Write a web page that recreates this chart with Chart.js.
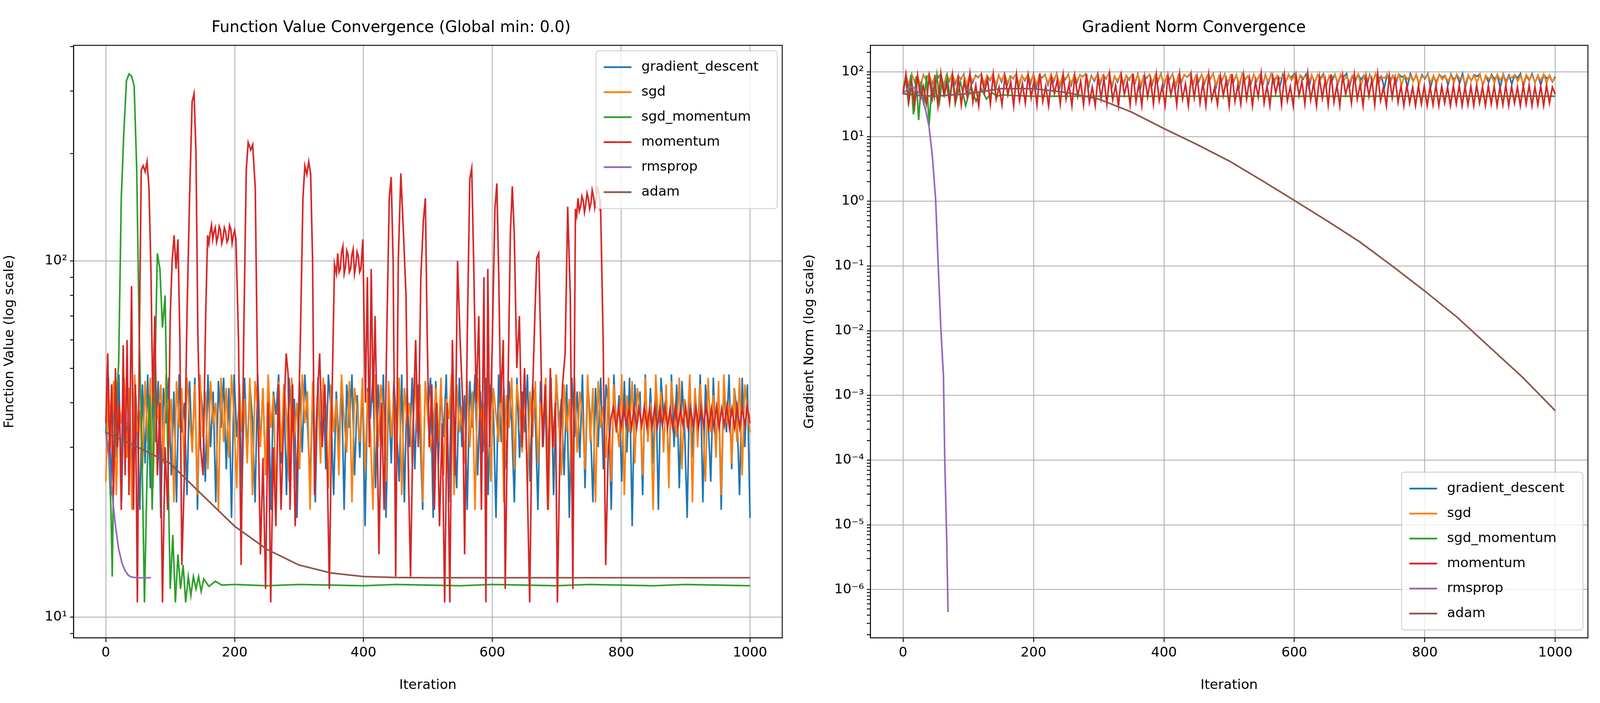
<!DOCTYPE html>
<html lang="en">
<head>
    <meta charset="UTF-8">
    <title>Optimizer Convergence</title>
    <script src="https://cdn.jsdelivr.net/npm/chart.js@4.4.1/dist/chart.umd.min.js"></script>
    <style>
        html, body { margin: 0; padding: 0; background: #fff; overflow: hidden; }
        .panel { position: absolute; top: 0; }
    </style>
</head>
<body>
    <div id="left" class="panel"><canvas id="fv-chart"></canvas></div>
    <div id="right" class="panel"><canvas id="gn-chart"></canvas></div>
    <script>
        const names = ['gradient_descent', 'sgd', 'sgd_momentum', 'momentum', 'rmsprop', 'adam'];
        const colors = ['#1f77b4', '#ff7f0e', '#2ca02c', '#d62728', '#9467bd', '#8c564b'];
        const xTicks = [0, 200, 400, 600, 800, 1000];

        // ---- function value panel (evenly spaced samples over 0..1000) ----
        const gdFv = [33,47,22,45,28,48,21,46,30,44,24,47,36,20,45,27,48,23,42,31,46,19,44,35,47,25,43,21,48,33,40,22,46,29,47,20,45,38,24,48,30,43,21,46,34,47,26,44,19,48,32,41,23,47,28,45,36,21,48,30,44,25,46,20,43,37,48,27,45,22,47,33,41,19,46,29,48,35,24,44,21,47,31,45,26,48,38,22,43,30,47,20,45,34,48,25,42,28,46,18,44,36,47,23,45,31,48,19,43,27,46,35,24,48,21,44,30,47,26,45,33,20,46,38,47,19,
            46,27,44,32,48,21,45,36,23,47,30,42,20,46,34,48,25,43,29,47,22,45,38,19,48,31,44,26,46,35,21,47,28,43,33,48,24,45,37,20,46,30,44,27,47,22,48,34,41,25,45,19,47,32,43,28,48,23,46,36,21,44,30,47,26,45,39,20,48,33,42,24,46,29,47,18,45,35,43,22,48,31,44,27,46,20,47,37,42,25,48,30,45,23,46,34,19,47,28,44,32,48,21,45,36,24,47,29,43,20,46,33,48,26,44,38,22,47,30,45,19];
        const sgdFv = [24,45,30,46,22,40,35,47,28,44,20,48,33,38,26,46,31,47,23,42,36,45,27,48,30,41,21,46,34,44,25,47,37,29,45,22,48,32,43,26,46,35,40,20,47,31,44,28,48,36,23,45,33,41,27,47,22,46,38,30,44,25,48,34,42,21,46,29,45,37,24,47,32,40,26,48,35,43,20,46,30,44,27,47,39,23,45,33,41,25,48,36,29,46,21,44,38,31,47,26,43,34,20,48,30,45,37,24,46,32,42,28,47,22,44,35,40,27,48,33,45,21,46,36,30,34,
            44,31,47,25,41,36,48,22,45,33,39,27,46,30,43,20,47,35,40,28,48,24,44,37,31,46,21,42,34,47,26,45,38,29,48,23,43,32,46,27,40,35,47,20,44,30,48,36,25,45,33,41,22,47,29,43,37,26,48,31,44,21,46,34,39,28,47,24,45,36,30,48,22,42,33,46,27,44,38,25,47,31,40,20,48,35,43,29,45,23,46,37,32,47,26,41,34,48,21,44,30,45,36,24,47,33,42,28,46,22,48,35,40,27,44,31,47,25,45,38,33];
        // [iteration, value]
        const sgdMomFv = [[0,33],[4,30],[8,20],[10,13],[12,25],[16,38],[20,52],[24,150],[28,230],[32,320],[36,335],[40,330],[44,310],[48,180],[52,60],[56,30],[60,11],[64,25],[68,42],[72,20],[76,45],[78,70],[80,105],[84,95],[88,65],[92,80],[96,30],[100,12],[104,17],[108,11],[112,15],[116,12],[120,14],[124,11],[128,13],[132,11.5],[136,13],[140,12],[144,13],[148,11.8],[152,12.8],[160,12.2],[170,12.6],[180,12.3],[200,12.35],[250,12.25],[300,12.35],[350,12.3],[400,12.25],[450,12.35],[500,12.3],[550,12.25],[600,12.35],[650,12.3],[700,12.25],[750,12.35],[800,12.3],[850,12.25],[900,12.35],[950,12.3],[1000,12.25]];
        const momFv = [[0,35],[3,55],[6,28],[9,45],[12,22],[15,50],[18,30],[21,40],[24,20],[27,58],[30,25],[33,60],[36,22],[40,85],[43,20],[46,45],[49,11],[52,60],[55,180],[58,185],[61,178],[64,190],[67,160],[70,95],[73,40],[76,70],[80,25],[84,40],[88,11],[92,30],[96,20],[100,70],[103,100],[106,118],[109,95],[112,115],[115,60],[118,14],[122,25],[126,70],[130,150],[134,280],[137,295],[140,200],[143,60],[147,30],[151,25],[155,70],[158,118],[160,112],[162,120],[164,126],[166,115],[168,121],[170,124],[172,113],[174,117],[176,125],[178,122],[180,112],[182,116],[184,124],[186,121],[188,113],[190,115],[192,126],[194,123],[196,112],[198,118],[200,122],[202,115],[206,60],[210,14],[214,60],[218,180],[221,215],[225,205],[228,212],[232,160],[236,40],[240,15],[244,28],[248,12],[252,40],[256,11],[260,30],[264,18],[268,45],[272,20],[276,35],[280,55],[283,48],[286,20],[290,45],[294,18],[298,30],[302,60],[306,150],[309,185],[312,175],[315,190],[318,175],[321,100],[324,22],[328,40],[332,55],[336,30],[340,45],[344,25],[347,12],[351,40],[355,98],[358,92],[360,105],[362,93],[364,95],[366,106],[368,110],[370,92],[372,96],[374,107],[376,104],[378,93],[380,95],[382,104],[384,108],[386,92],[388,97],[390,106],[392,103],[394,93],[396,95],[399,115],[403,40],[406,90],[409,30],[412,95],[415,40],[418,70],[421,35],[424,15],[428,40],[432,20],[436,60],[440,150],[443,172],[446,100],[450,13],[454,100],[458,176],[462,120],[466,80],[469,30],[473,13],[477,35],[481,60],[485,30],[489,90],[493,130],[496,150],[499,60],[502,30],[506,45],[510,20],[514,40],[518,18],[522,35],[526,11],[530,40],[534,11],[538,60],[542,25],[546,100],[550,60],[554,40],[557,15],[561,60],[565,170],[568,182],[571,100],[575,40],[579,70],[583,20],[587,90],[590,11],[593,95],[596,30],[600,60],[604,140],[607,165],[610,90],[613,40],[617,60],[620,12],[624,40],[628,120],[631,162],[634,120],[638,50],[642,70],[646,30],[650,50],[654,25],[658,11],[662,40],[666,70],[669,102],[672,105],[675,60],[678,30],[682,45],[686,20],[690,50],[694,30],[698,40],[701,11],[705,30],[709,45],[713,55],[717,142],[721,80],[725,12],[729,140],[731,134],[733,150],[735,138],[737,142],[739,152],[741,148],[743,137],[745,144],[747,155],[749,150],[751,140],[753,145],[755,158],[757,152],[759,141],[761,148],[763,160],[765,156],[767,142],[768,145],[772,60],[776,14],[780,30],[784,36]];
        // momentum settles into a two-value cycle, one value every 4 iterations from 788
        const momFvTail = [39,34,38.5,34,39,34.5,38.5,34,39,34,38.5,34.5,39,34,38.5,34,39,34,38.5,34.5,39,34,38.5,34,39,34,38.5,34.5,39,34,38.5,34,39,34,38.5,34.5,39,34,38.5,34,39,34,38.5,34.5,39,34,38.5,34,39,34,38.5,34.5,39,35];
        const rmsFv = [[0,33],[5,28],[10,22],[15,18],[20,15.5],[25,14.2],[30,13.5],[35,13.1],[40,12.95],[50,12.9],[60,12.9],[70,12.9]];
        const adamFv = [[0,33],[50,30],[100,27],[150,22],[200,18],[250,15.5],[300,14],[350,13.3],[400,13.0],[450,12.92],[500,12.9],[600,12.9],[700,12.9],[800,12.9],[900,12.9],[1000,12.9]];

        // ---- gradient norm panel ----
        const gdGn = [48,88,60,92,70,85,58,90,75,93,62,87,80,91,56,89,72,94,65,86,78,92,59,90,68,88,82,93,61,87,74,91,57,89,70,94,64,86,79,92,60,88,73,90,66,93,58,87,81,91,63,89,71,94,57,86,76,92,62,88,69,90,84,93,59,87,72,91,65,89,78,94,56,86,70,92,61,88,75,90,67,93,58,87,80,91,64,89,73,94,60,86,77,92,57,88,69,90,83,93,62,87,71,91,66,89,79,94,58,86,74,92,63,88,70,90,59,93,76,87,65,91,72,89,61,
            90,66,93,74,86,59,91,70,88,82,94,63,87,77,92,57,89,68,90,80,93,61,86,73,91,65,88,84,94,58,87,71,92,76,89,62,90,69,93,79,86,56,91,74,88,66,92,83,87,60,94,72,89,64,90,78,93,58,86,70,91,81,88,63,92,75,89,67,94,59,87,73,90,85,93,62,86,69,91,77,88,57,92,71,89,65,90,80,94,60,87,74,93,68,88,63,91,79,86,70,85];
        const sgdGn = [55,80,66,90,72,84,64,88,78,91,68,83,86,90,63,87,75,92,70,82,80,89,65,88,73,85,84,91,67,86,77,90,64,88,74,92,69,83,81,90,66,87,76,89,71,91,65,84,83,90,68,88,75,92,63,85,79,90,67,86,73,89,85,91,65,84,76,90,70,88,80,92,62,85,74,90,67,87,78,89,71,91,64,84,82,90,69,88,76,92,66,85,79,90,63,87,73,89,84,91,68,85,75,90,70,88,81,92,64,84,77,90,68,87,74,89,65,91,78,86,70,90,75,88,66,
            86,72,91,65,88,79,84,68,92,74,87,63,90,81,85,70,89,66,91,76,88,64,86,83,90,69,92,73,85,67,89,78,91,62,87,75,88,70,93,65,84,80,90,68,86,74,91,63,89,77,87,71,92,66,85,82,90,69,88,64,91,76,86,72,89,67,92,79,84,65,90,73,87,70,91,63,88,78,86,68,92,75,89,66,85,81,90,71,87,64,91,77,88,69,86,74,92,67,89,72,80];
        const sgdMomGn = [[0,46],[4,80],[8,35],[12,90],[16,22],[20,85],[24,18],[28,70],[32,30],[36,88],[40,15],[44,60],[48,40],[52,90],[56,35],[60,75],[64,45],[68,85],[72,38],[76,80],[80,32],[88,70],[96,30],[104,60],[112,35],[120,55],[128,38],[136,48],[144,42],[152,44],[170,43],[200,42],[250,42],[300,42],[400,42],[500,42],[600,42],[700,42],[800,42],[900,42],[1000,42]];
        const momGn = [45,92,35,70,30,88,40,60,32,85,38,75,30,95,45,65,33,90,36,80,31,72,42,94,34,62,30,86,48,78,32,92,38,58,31,84,44,70,30,90,36,66,33,88,40,74,31,95,35,60,30,82,46,76,32,90,38,64,30,87,42,72,31,93,34,58,30,85,39,79,32,91,37,62,30,88,45,70,31,94,35,66,30,84,41,76,32,90,36,60,30,86,44,73,31,92,38,65,30,88,
            40,82,33,68,30,91,37,57,31,86,43,74,30,93,35,63,32,89,38,78,30,70,41,95,33,61,30,84,47,77,31,90,36,59,30,87,43,71,32,94,37,67,30,83,39,75,31,92,34,62,30,88,45,69,33,91,38,64,30,85,42,76,31,93,36,58,30,86,40,80,
            34,60,30,62,33,58,30,61,32,60,30,59,31,62,30,60,33,58,30,61,32,62,30,59,31,60,30,62,33,58,30,61,32,60,30,59,31,62,30,60,33,58,30,61,32,62,30,59,31,60,30,62,33,58,45];
        const rmsGn = [[0,46],[5,52],[10,59],[15,58],[20,54],[25,46],[30,37],[35,25],[40,14],[45,5],[50,1.07],[54,0.1],[58,0.0107],[62,0.002],[64,1e-4],[67,5.8e-6],[69,4.5e-7]];
        const adamGn = [[0,46],[25,43],[50,42],[100,46],[150,55],[200,55],[250,48],[300,38],[350,24],[400,13.3],[450,7.6],[500,4.2],[550,2.1],[600,1.03],[650,0.5],[700,0.237],[750,0.1],[800,0.041],[850,0.016],[900,0.0055],[950,0.0019],[1000,0.00058]];

        const even = ys => ys.map((y, i) => ({ x: i * 1000 / (ys.length - 1), y }));
        const pairs = ps => ps.map(p => ({ x: p[0], y: p[1] }));
        const momFvPts = pairs(momFv).concat(momFvTail.map((y, i) => ({ x: 788 + i * 4, y })));

        const SUP = { '-': '\u207b', '0': '\u2070', '1': '\u00b9', '2': '\u00b2', '3': '\u00b3', '4': '\u2074', '5': '\u2075', '6': '\u2076', '7': '\u2077', '8': '\u2078', '9': '\u2079' };
        const powLabel = e => '10' + String(e).split('').map(c => SUP[c]).join('');
        const FONT = 'DejaVu Sans';

        // the layout was measured on a 4500x1800 page; scale to whatever the viewport really is
        const W = document.documentElement.clientWidth || window.innerWidth;
        const H = document.documentElement.clientHeight || window.innerHeight;
        const kx = W / 4500, ky = H / 1800, k = Math.min(kx, ky);
        const half = Math.floor(W / 2);

        function setupPanel(divId, canvasId, left, width) {
            const div = document.getElementById(divId);
            div.style.left = left + 'px';
            div.style.width = width + 'px';
            div.style.height = H + 'px';
            const cv = document.getElementById(canvasId);
            cv.width = width; cv.height = H;
            cv.style.width = width + 'px'; cv.style.height = H + 'px';
        }
        setupPanel('left', 'fv-chart', 0, half);
        setupPanel('right', 'gn-chart', half, W - half);

        function datasets(series) {
            return series.map((data, i) => ({
                label: names[i], data,
                borderColor: colors[i], backgroundColor: colors[i],
                borderWidth: 4.5 * k, pointRadius: 0, tension: 0,
                order: 5 - i
            }));
        }

        // box round the plot area
        const frame = {
            id: 'frame',
            afterDraw(chart) {
                const a = chart.chartArea, c = chart.ctx;
                c.save(); c.strokeStyle = '#000'; c.lineWidth = 2.5 * k;
                c.strokeRect(a.left, a.top, a.right - a.left, a.bottom - a.top);
                c.restore();
            }
        };

        // matplotlib-like legend inside the plot
        const innerLegend = {
            id: 'innerLegend',
            afterDraw(chart, args, opts) {
                const a = chart.chartArea, c = chart.ctx;
                const w = 510 * k, rowH = 64 * ky, h = rowH * names.length + 20 * ky;
                const x = a.right - w - 14 * kx;
                const y = opts.pos === 'top' ? a.top + 14 * ky : a.bottom - h - 20 * ky;
                c.save();
                c.fillStyle = 'rgba(255,255,255,0.8)'; c.strokeStyle = '#d0d0d0'; c.lineWidth = 2.5 * k;
                c.beginPath(); c.roundRect(x, y, w, h, 8 * k); c.fill(); c.stroke();
                c.font = (38 * k) + 'px "' + FONT + '"'; c.textBaseline = 'middle'; c.fillStyle = '#000';
                names.forEach((n, i) => {
                    const cy = y + 10 * ky + rowH * i + rowH / 2;
                    c.strokeStyle = colors[i]; c.lineWidth = 5 * k;
                    c.beginPath(); c.moveTo(x + 22 * k, cy); c.lineTo(x + 100 * k, cy); c.stroke();
                    c.fillText(n, x + 128 * k, cy);
                });
                c.restore();
            }
        };

        function makeChart(id, series, title, yTitle, yMin, yMax, yLeft, padRight, legendPos) {
            const lo = Math.floor(Math.log10(yMin)), hi = Math.ceil(Math.log10(yMax));
            return new Chart(document.getElementById(id), {
                type: 'line',
                data: { datasets: datasets(series) },
                plugins: [frame, innerLegend],
                options: {
                    responsive: false, animation: false, devicePixelRatio: 1,
                    layout: { padding: { top: 0, right: padRight * kx, bottom: 20 * ky, left: 0 } },
                    plugins: {
                        legend: { display: false }, tooltip: { enabled: false },
                        innerLegend: { pos: legendPos },
                        title: { display: true, text: title, color: '#000', font: { family: FONT, size: 44 * k, weight: 'normal' }, padding: { top: 48 * ky, bottom: 20 * ky } }
                    },
                    scales: {
                        x: {
                            type: 'linear', min: -50, max: 1050,
                            afterBuildTicks: s => { s.ticks = xTicks.map(v => ({ value: v })); },
                            afterFit: s => { s.height = 147 * ky; },
                            grid: { color: '#b0b0b0', lineWidth: 2.5 * k, tickColor: '#000', tickLength: 12 * k },
                            border: { color: '#000', width: 2.5 * k },
                            ticks: { color: '#000', font: { family: FONT, size: 38 * k }, maxRotation: 0, padding: 8 * k, callback: v => String(v) },
                            title: { display: true, text: 'Iteration', color: '#000', font: { family: FONT, size: 38 * k }, padding: { top: 6 * k } }
                        },
                        y: {
                            type: 'logarithmic', min: yMin, max: yMax,
                            afterBuildTicks: s => {
                                const t = [];
                                for (let e = lo; e <= hi; e++) for (let m = 1; m <= 9; m++) {
                                    const v = m * Math.pow(10, e);
                                    if (v >= yMin && v <= yMax) t.push({ value: v, major: m === 1, e });
                                }
                                s.ticks = t;
                            },
                            afterFit: s => { s.width = yLeft * kx; },
                            grid: {
                                color: ctx => (ctx.tick && ctx.tick.major) ? '#b0b0b0' : 'rgba(0,0,0,0)',
                                lineWidth: 2.5 * k, tickColor: '#000', tickLength: 10 * k
                            },
                            border: { color: '#000', width: 2.5 * k },
                            ticks: {
                                color: '#000', font: { family: FONT, size: 38 * k }, autoSkip: false, padding: 8 * k,
                                callback: function (v, i, ticks) { return ticks[i].major ? powLabel(ticks[i].e) : ''; }
                            },
                            title: { display: true, text: yTitle, color: '#000', font: { family: FONT, size: 38 * k }, padding: { bottom: 10 * k } }
                        }
                    }
                }
            });
        }

        makeChart('fv-chart',
            [even(gdFv), even(sgdFv), pairs(sgdMomFv), momFvPts, pairs(rmsFv), pairs(adamFv)],
            'Function Value Convergence (Global min: 0.0)', 'Function Value (log scale)',
            8.75, 403, 207, 50, 'top');

        makeChart('gn-chart',
            [even(gdGn), even(sgdGn), pairs(sgdMomGn), even(momGn), pairs(rmsGn), pairs(adamGn)],
            'Gradient Norm Convergence', 'Gradient Norm (log scale)',
            1.8e-7, 257, 198, 34, 'bottom');
    </script>
</body>
</html>
